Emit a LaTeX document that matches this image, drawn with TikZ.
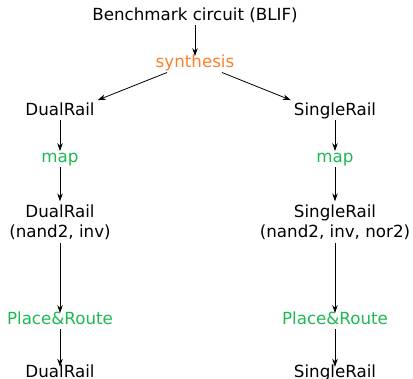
\documentclass[tikz,border=0pt]{standalone}
\usepackage{fontspec}
\setmainfont{DejaVu Sans}
\usetikzlibrary{arrows.meta,positioning}
\definecolor{synorange}{HTML}{FF7F2A}
\definecolor{toolgreen}{HTML}{1DB954}

\begin{document}
\begin{tikzpicture}[x=1pt, y=1pt,
        stage/.style={inner sep=3pt, align=center, text height=0.78em, text depth=0.22em,
                      font=\fontsize{16.7}{20}\selectfont},
        synth/.style={stage, text=synorange},
        tool/.style={stage, text=toolgreen},
        flow/.style={-{Stealth[length=8pt, width=5.5pt]}, line width=0.8pt}
    ]
    \useasboundingbox (0,0) rectangle (413,-379);

    % Entree
    \node[stage] (bench) at (195,-17.3) {Benchmark circuit (BLIF)};
    \node[synth] (syn) at (195,-64.3) {synthesis};

    % Branche DualRail
    \node[stage] (dr1) at (60,-112.3) {DualRail};
    \node[tool] (map1) at (60,-159.3) {map};
    \node[stage, text height=, text depth=] (dr2) at (60,-222) {DualRail\\(nand2, inv)};
    \node[tool] (pr1) at (60,-321.3) {Place\&Route};
    \node[stage] (dr3) at (60,-375) {DualRail};

    % Branche SingleRail
    \node[stage] (sr1) at (335,-112.3) {SingleRail};
    \node[tool] (map2) at (335,-159.3) {map};
    \node[stage, text height=, text depth=] (sr2) at (335,-222) {SingleRail\\(nand2, inv, nor2)};
    \node[tool] (pr2) at (335,-321.3) {Place\&Route};
    \node[stage] (sr3) at (335,-375) {SingleRail};

    % Fleches
    \draw[flow] (bench) -- (syn);
    \draw[flow] ([xshift=-28pt]syn.south) -- ([yshift=4pt]dr1.north east);
    \draw[flow] ([xshift=27pt]syn.south) -- ([yshift=4pt]sr1.north west);
    \draw[flow] (dr1) -- (map1);
    \draw[flow] (map1) -- (dr2);
    \draw[flow] (dr2) -- (pr1);
    \draw[flow] (pr1) -- (dr3);
    \draw[flow] (sr1) -- (map2);
    \draw[flow] (map2) -- (sr2);
    \draw[flow] (sr2) -- (pr2);
    \draw[flow] (pr2) -- (sr3);
\end{tikzpicture}
\end{document}
